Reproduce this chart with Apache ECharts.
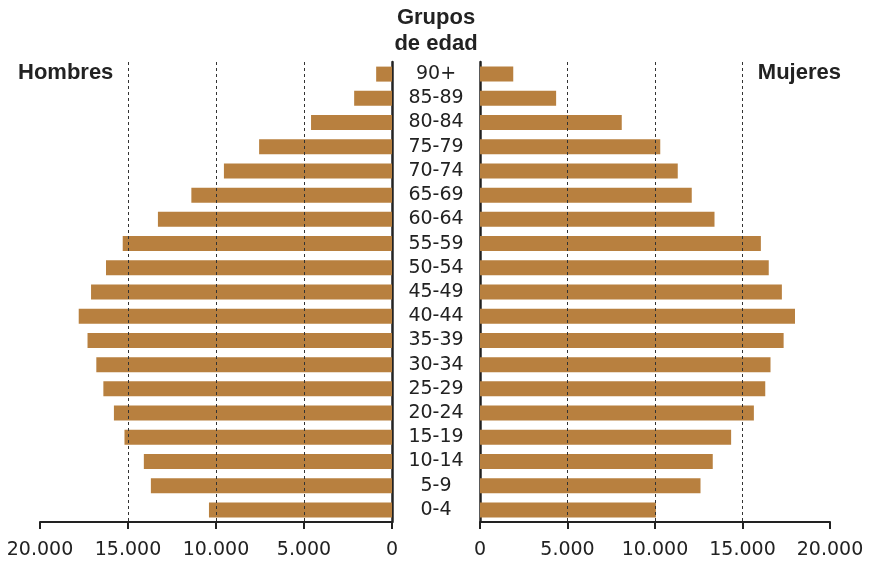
<!DOCTYPE html>
<html>
<head>
<meta charset="utf-8">
<script src="https://cdn.jsdelivr.net/npm/echarts@6/dist/echarts.min.js"></script>
<style>html,body{margin:0;padding:0;background:#fff;}#c{width:871px;height:562px;}</style>
</head>
<body>
<div id="c"></div>
<script>
const categories = ['90+','85-89','80-84','75-79','70-74','65-69','60-64','55-59','50-54','45-49','40-44','35-39','30-34','25-29','20-24','15-19','10-14','5-9','0-4'];
const hombres = [900,2150,4600,7550,9550,11400,13300,15300,16250,17100,17800,17300,16800,16400,15800,15200,14100,13700,10400];
const mujeres = [1900,4350,8100,10300,11300,12100,13400,16050,16500,17250,18000,17350,16600,16300,15650,14350,13300,12600,10050];
const dashedTicks = [5000,10000,15000];
const axisMax = 20000;
const axisStep = 5000;

const chart = echarts.init(document.getElementById('c'), null, {renderer:'canvas'});
const fmt = v => v === 0 ? '0' : String(v).replace(/\B(?=(\d{3})+(?!\d))/g, '.');
const barColor = '#b8803f';
const ink = '#222';
const numFont = 'DejaVu Sans';

function xAx(idx, inverse){
  return {
    type:'value', gridIndex: idx, min:0, max:axisMax, interval:axisStep, inverse: inverse,
    position:'bottom',
    axisLine:{show:true, lineStyle:{color:ink, width:2}},
    axisTick:{show:true, length:7, lineStyle:{color:ink, width:2}},
    axisLabel:{formatter:fmt, fontFamily:numFont, fontSize:19, color:ink, margin:19},
    splitLine:{show:false}
  };
}
function mark(){
  return {
    silent:true, symbol:'none', label:{show:false},
    lineStyle:{type:[3,3], color:'#333', width:1},
    data: dashedTicks.map(v => ({xAxis:v}))
  };
}

chart.setOption({
  animation:false,
  grid:[
    {left:40, right:871-392, top:62, bottom:562-522, containLabel:false},
    {left:480, right:871-830, top:62, bottom:562-522, containLabel:false}
  ],
  xAxis:[xAx(0,true), xAx(1,false)],
  yAxis:[
    {type:'category', gridIndex:0, data:categories, inverse:true, position:'right',
     axisLine:{show:true, lineStyle:{color:ink, width:2.5}}, axisTick:{show:false},
     axisLabel:{interval:0, margin:44, align:'center', fontFamily:numFont, fontSize:19, color:ink}},
    {type:'category', gridIndex:1, data:categories, inverse:true, position:'left',
     axisLine:{show:true, lineStyle:{color:ink, width:2.5}}, axisTick:{show:false},
     axisLabel:{show:false}}
  ],
  series:[
    {type:'bar', name:'Hombres', xAxisIndex:0, yAxisIndex:0, data:hombres, barWidth:15,
     itemStyle:{color:barColor}, markLine:mark(), z:2},
    {type:'bar', name:'Mujeres', xAxisIndex:1, yAxisIndex:1, data:mujeres, barWidth:15,
     itemStyle:{color:barColor}, markLine:mark(), z:2}
  ],
  graphic:[
    {type:'text', style:{text:'Grupos', x:436, y:18, font:'bold 22px "Liberation Sans"', fill:ink, align:'center', verticalAlign:'middle'}},
    {type:'text', style:{text:'de edad', x:436, y:44, font:'bold 22px "Liberation Sans"', fill:ink, align:'center', verticalAlign:'middle'}},
    {type:'text', style:{text:'Hombres', x:18, y:73, font:'bold 22px "Liberation Sans"', fill:ink, align:'left', verticalAlign:'middle'}},
    {type:'text', style:{text:'Mujeres', x:841, y:73, font:'bold 22px "Liberation Sans"', fill:ink, align:'right', verticalAlign:'middle'}}
  ]
});
</script>
</body>
</html>
